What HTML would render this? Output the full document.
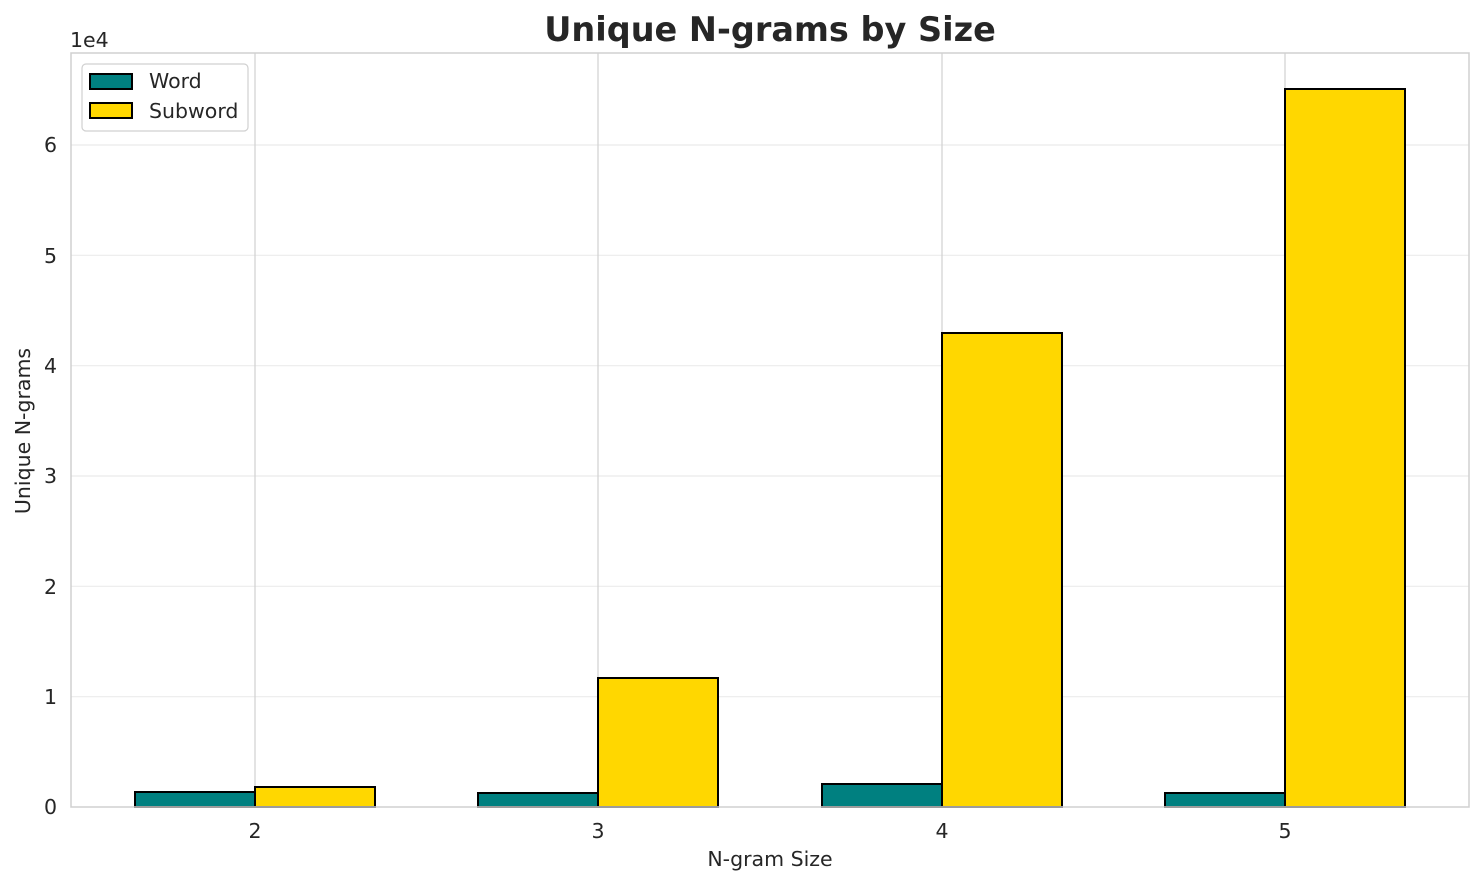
<!DOCTYPE html>
<html><head><meta charset="utf-8"><style>
html,body{margin:0;padding:0;background:#fff;}
svg{display:block;font-family:"DejaVu Sans","Liberation Sans",sans-serif;}
</style></head><body>
<svg width="1484" height="885" viewBox="0 0 1484 885" xmlns="http://www.w3.org/2000/svg">
<rect width="1484" height="885" fill="#fff"/>
<g stroke="#ebebeb" stroke-width="1.2">
<line x1="71" x2="1469" y1="696.7" y2="696.7"/>
<line x1="71" x2="1469" y1="586.3" y2="586.3"/>
<line x1="71" x2="1469" y1="476" y2="476"/>
<line x1="71" x2="1469" y1="365.7" y2="365.7"/>
<line x1="71" x2="1469" y1="255.3" y2="255.3"/>
<line x1="71" x2="1469" y1="145" y2="145"/>
</g>
<g stroke="#d0d0d0" stroke-width="1.2">
<line x1="255" x2="255" y1="53" y2="807"/>
<line x1="598" x2="598" y1="53" y2="807"/>
<line x1="942" x2="942" y1="53" y2="807"/>
<line x1="1285" x2="1285" y1="53" y2="807"/>
</g>
<g stroke="#000" stroke-width="2">
<rect x="135" y="792" width="120" height="15" fill="#008080"/>
<rect x="255" y="787" width="120" height="20" fill="#FFD700"/>
<rect x="478" y="793" width="120" height="14" fill="#008080"/>
<rect x="598" y="678" width="120" height="129" fill="#FFD700"/>
<rect x="822" y="784" width="120" height="23" fill="#008080"/>
<rect x="942" y="333" width="120" height="474" fill="#FFD700"/>
<rect x="1165" y="793" width="120" height="14" fill="#008080"/>
<rect x="1285" y="89" width="120" height="718" fill="#FFD700"/>
</g>
<rect x="71" y="53" width="1398" height="754" fill="none" stroke="#d0d0d0" stroke-width="1.5"/>
<g fill="#262626" font-size="20.5" text-anchor="end">
<text x="57" y="814">0</text>
<text x="57" y="704">1</text>
<text x="57" y="594">2</text>
<text x="57" y="483">3</text>
<text x="57" y="373">4</text>
<text x="57" y="263">5</text>
<text x="57" y="152">6</text>
</g>
<text x="70" y="47" font-size="20.5" fill="#262626">1e4</text>
<g fill="#262626" font-size="20.5" text-anchor="middle">
<text x="255" y="838">2</text>
<text x="598" y="838">3</text>
<text x="942" y="838">4</text>
<text x="1285" y="838">5</text>
</g>
<text x="770" y="866" font-size="20.5" fill="#262626" text-anchor="middle">N-gram Size</text>
<text transform="translate(30,431) rotate(-90)" font-size="20.5" fill="#262626" text-anchor="middle">Unique N-grams</text>
<text x="770" y="41" font-size="33.5" font-weight="bold" fill="#262626" text-anchor="middle">Unique N-grams by Size</text>
<rect x="82" y="64" width="166" height="67" rx="4" fill="#fff" fill-opacity="0.8" stroke="#d0d0d0" stroke-width="1.2"/>
<rect x="90" y="74" width="42" height="15" fill="#008080" stroke="#000" stroke-width="2"/>
<rect x="90" y="103" width="42" height="15" fill="#FFD700" stroke="#000" stroke-width="2"/>
<text x="149" y="88" font-size="20.5" fill="#262626">Word</text>
<text x="149" y="118" font-size="20.5" fill="#262626">Subword</text>
</svg>
</body></html>
